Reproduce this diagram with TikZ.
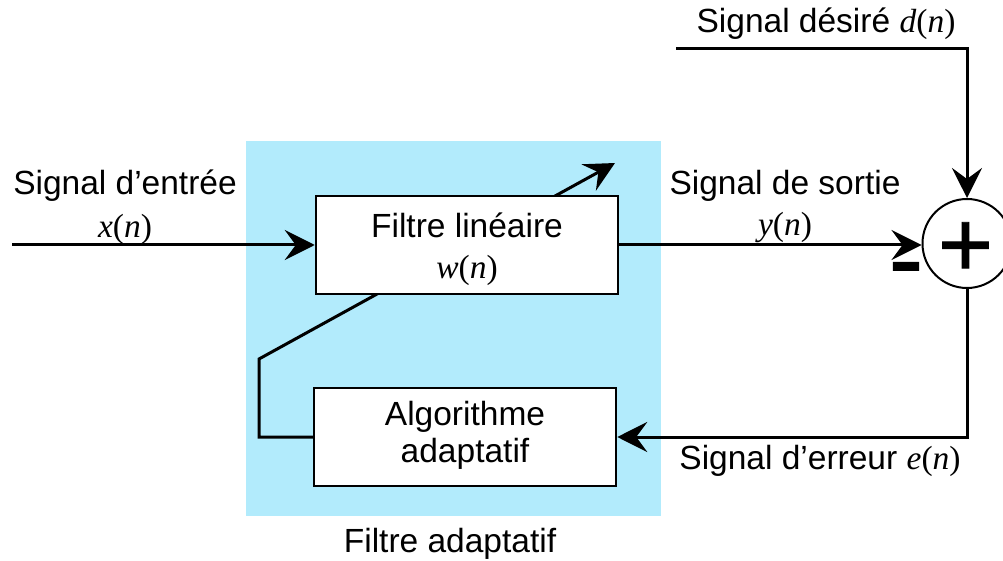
\documentclass[tikz,border=0pt]{standalone}
\usepackage{fontspec}
\setmainfont{Liberation Sans}
\newfontfamily\tms{Liberation Serif}
\newfontfamily\signfont[FakeBold=1]{Liberation Sans}
\usetikzlibrary{arrows.meta}
\definecolor{adaptblue}{RGB}{178,235,252}
% signal name in italic serif, e.g. x(n)
\newcommand\sigarg[1]{{\tms\itshape #1}{\tms(}{\tms\itshape n}{\tms)}}

\begin{document}
\begin{tikzpicture}[x=1pt,y=-1pt,
  lbl/.style={anchor=base, font=\fontsize{33.5}{40}\selectfont, inner sep=0pt},
  box/.style={draw, line width=2.5pt, fill=white, minimum width=302pt,
    minimum height=98pt, inner sep=0pt},
  conn/.style={line width=3pt},
  arr/.style={conn, -{Stealth[length=30pt,width=30pt,inset=11pt]}}]
\useasboundingbox (0,0) rectangle (1003,561);

% adaptive filter zone
\node[fill=adaptblue, minimum width=415pt, minimum height=375pt, inner sep=0pt]
  (zone) at (453.5,328.5) {};
\node[lbl] (zonelbl) at (450,552) {Filtre adaptatif};

% adaptation path (runs behind the linear filter)
\coordinate (fbA) at (259,437);
\coordinate (fbB) at (259,359);
\coordinate (fbtip) at (615,163);

\node[box] (algo) at (465,437) {};
\draw[arr] (algo.west) -- (fbA) -- (fbB) -- (fbtip);

\node[box] (filt) at (467,245) {};
\node[lbl] (filtA) at (467,238) {Filtre linéaire};
\node[lbl] (filtB) at (467,278) {\sigarg{w}};

\node[lbl] (algoA) at (465,425) {Algorithme};
\node[lbl] (algoB) at (465,462) {adaptatif};

% summing junction
\node[circle, draw, line width=2pt, minimum size=89pt, inner sep=0pt]
  (sum) at (967,243.5) {};
\node[font=\signfont\fontsize{94}{94}\selectfont, inner sep=0pt, anchor=base]
  (plus) at (965.5,276.5) {+};
\node[font=\signfont\fontsize{104}{104}\selectfont, inner sep=0pt, anchor=base]
  (minus) at (906,294) {-};

% input
\coordinate (xin) at (12,245);
\draw[arr] (xin) -- (filt.west);
\node[lbl] (inA) at (125,195) {Signal d’entrée};
\node[lbl] (inB) at (125,237) {\sigarg{x}};

% output
\draw[arr] (filt.east) -- (filt.east -| sum.west);
\node[lbl] (outA) at (785,195) {Signal de sortie};
\node[lbl] (outB) at (785,236) {\sigarg{y}};

% desired signal
\coordinate (dstart) at (676,49);
\draw[arr] (dstart) -| (sum.north);
\node[lbl] (desA) at (826,33) {Signal désiré \sigarg{d}};

% error signal
\draw[arr] (sum.south) |- (algo.east);
\node[lbl] (errA) at (820,469) {Signal d’erreur \sigarg{e}};
\end{tikzpicture}
\end{document}
